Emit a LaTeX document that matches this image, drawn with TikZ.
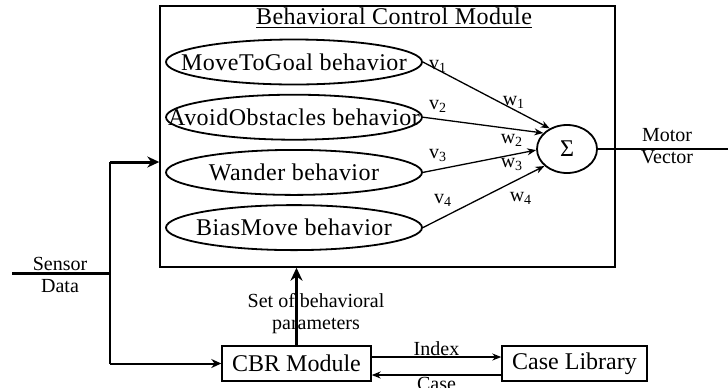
\documentclass[tikz,border=0pt]{standalone}
\usepackage{fontspec}
\setmainfont{Liberation Serif}
\newfontfamily\spacedfont[LetterSpace=2]{Liberation Serif}
\usepackage{tikz}
\usetikzlibrary{shapes,shapes.geometric,arrows.meta,calc,positioning}
\tikzset{module/.style={draw, line width=0.7pt, inner sep=0pt}}
\tikzset{behav/.style={draw, ellipse, line width=0.9pt, inner sep=0pt, minimum width=128pt, minimum height=22.5pt, font=\spacedfont\fontsize{12}{14}\selectfont}}
\tikzset{tag/.style={inner sep=0pt, align=center, font=\fontsize{10}{11}\selectfont}}
\tikzset{thickflow/.style={line width=1.5pt, -{Stealth[length=6pt,width=5.5pt]}}}
\newcommand{\nowidth}[1]{\makebox[0pt]{#1}}

\begin{document}
\begin{tikzpicture}[x=0.5pt, y=-0.5pt, >={Stealth[length=4.5pt,width=3.5pt]}, node distance=4.2pt]
\useasboundingbox (0,0) rectangle (728,387);

% behavioral control module
\node[module, minimum width=227.5pt, minimum height=130.5pt] (bcm) at (387.5,136.5) {};
\node[inner sep=0pt, font=\spacedfont\fontsize{12}{14}\selectfont] (title) at (394,18) {\underline{Behavioral Control Module}};
\node[behav] (mtg) at (294,62) {\nowidth{MoveToGoal behavior}};
\node[behav, below=of mtg] (avoid) {\nowidth{AvoidObstacles behavior}};
\node[behav, below=of avoid] (wander) {\nowidth{Wander behavior}};
\node[behav, below=of wander] (bias) {\nowidth{BiasMove behavior}};
\node[draw, ellipse, line width=0.9pt, inner sep=0pt, minimum width=30pt, minimum height=24pt, font=\fontsize{12}{14}\selectfont] (sum) at (567,149) {Σ};

\path[->, line width=0.65pt](mtg.east) edge (sum.130)
	(avoid.east) edge (sum.146)
	(wander.east) edge (sum.182)
	(bias.east) edge (sum.217)
;

\node[tag] (v1) at (438,66) {v\textsubscript{1}};
\node[tag] (w1) at (514,102) {w\textsubscript{1}};
\node[tag] (v2) at (438,106) {v\textsubscript{2}};
\node[tag] (w2) at (512,140) {w\textsubscript{2}};
\node[tag] (v3) at (438,155) {v\textsubscript{3}};
\node[tag] (w3) at (512,164) {w\textsubscript{3}};
\node[tag] (v4) at (443,200) {v\textsubscript{4}};
\node[tag] (w4) at (521,198) {w\textsubscript{4}};

% output
\coordinate (mv) at (728,149);
\draw[line width=0.65pt] (sum.east) -- (mv);
\node[tag] (motor) at (667,146) {Motor\\Vector};

% sensor data
\node[module, minimum width=74.5pt, minimum height=17.5pt, font=\fontsize{12}{14}\selectfont] (cbr) at (296.5,363.5) {CBR Module};
\node[module, minimum width=72.5pt, minimum height=17.5pt, font=\fontsize{12}{14}\selectfont] (caselib) at (574.5,363.5) {Case Library};
\coordinate (sd) at (12,273);
\coordinate (split) at (110,273);
\coordinate (upper) at (110,162);
\coordinate (lower) at (split |- cbr.west);
\draw[line width=1.5pt] (sd) -- (split);
\draw[line width=1pt] (upper) -- (lower);
\draw[thickflow] (upper) -- (bcm.west |- upper);
\draw[line width=1pt, -{Stealth[length=5pt,width=4.5pt]}] (lower) -- (cbr.west);
\node[tag] (sensor) at (60,274.5) {Sensor\\Data};

% cbr
\draw[line width=1.5pt, -{Stealth[length=6.5pt,width=6pt]}] (cbr.north) -- (cbr.north |- bcm.south);
\node[tag] (params) at (316,314) {Set of behavioral\\parameters};
\draw[->, line width=0.65pt] ([yshift=3.25pt]cbr.east) -- ([yshift=3.25pt]caselib.west) node[tag, midway, above=0.5pt] (index) {Index};
\draw[->, line width=0.65pt] ([yshift=-5.75pt]caselib.west) -- ([yshift=-5.75pt]cbr.east) node[tag, midway, below=0.8pt] (case) {Case};
\end{tikzpicture}
\end{document}
